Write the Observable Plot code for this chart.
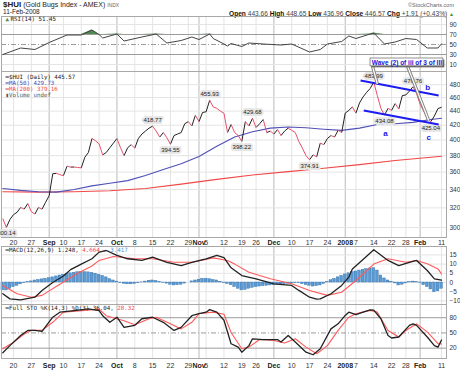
<!DOCTYPE html>
<html><head><meta charset="utf-8">
<script src="https://cdn.jsdelivr.net/npm/d3@7"></script>
<script src="https://cdn.jsdelivr.net/npm/@observablehq/plot@0.6"></script>
<style>
body{margin:0;background:#fff;}
#chart{position:relative;width:460px;height:371px;overflow:hidden;background:#fff;font-family:"Liberation Sans",Arial,sans-serif;color:#222;}
.h{position:absolute;white-space:nowrap;}
</style></head><body><div id="chart">
<div class="h" style="left:3px;top:0px;font-size:7px;line-height:10px;"><b style="font-size:8px">$HUI</b> (Gold Bugs Index - AMEX) <span style="font-size:5px;color:#666">INDX</span></div>
<div class="h" style="left:3px;top:7px;font-size:6.5px;line-height:9px;">11-Feb-2008</div>
<div class="h" style="right:6px;top:1px;font-size:5.5px;line-height:8px;color:#666;">©StockCharts.com</div>
<div class="h" style="right:6px;top:9.5px;font-size:6.6px;line-height:8px;color:#444;"><b style="color:#111">Open</b> 443.66 <b style="color:#111">High</b> 448.65 <b style="color:#111">Low</b> 436.96 <b style="color:#111">Close</b> 446.57 <b style="color:#111">Chg</b> +1.91 (+0.43%) <span style="color:#2a9a2a;font-size:5px">▲</span></div>
</div>
<script>
// ---------- data ----------
const holidays = ["2007-09-03","2007-11-22","2007-12-25","2008-01-01","2008-01-21"];
const firstDate = "2007-08-15", lastDate = "2008-02-11";

// daily closes, one per trading day from 15-Aug-2007
const price = [309,300.14,308,313,315.4,320.5,318.7,324.6,316,313.6,
 320.5,318.6,326,333,358,358.5,357,355.8,367,366,
 366,365.5,365,378,384,402,399,395,381,384,
 390,396,402,390,380,390,394,389.5,402,408,
 412,416,418.77,412,404,410,403,394.55,406,408,
 410,422,425,419,434,425,438,439,455.93,446,
 444,440,437,410,421,410,406,398.22,425,419,
 429.68,417,422,428,410,412,408,414,406,412,
 416,413,410,398,389.5,380,374.91,381,378.5,396,
 394,402,406,404,413,410,437,441,446,437,
 452,461,468,474,483.99,463,444,434.08,444,441,
 451,443,463,464,470,476.76,466,450,440,430,
 425.04,433,443.66,445.57];

const ma50Day = [0,5,10,15,20,25,30,35,40,45,50,55,60,65,70,75,80,85,90,95,100,105,110,115,120,123];
const ma50Val = [341,339,337.5,337,340,344,347,350,356,363,370,379,392,404,411,416,417.5,416.5,414.5,413,416,421,422,424,428,429.73];
const ma200Day = [0,10,20,30,40,50,60,70,80,90,100,110,120,123];
const ma200Val = [337.5,337,337.5,338.5,341,346,351.5,356.5,360.5,364.5,369,374,378,379.16];

const rsiDay = [0,5,9,13,18,22,25,27,28,32,34,39,43,46,50,53,55,58,59,62,63,64,67,69,73,78,81,86,89,91,95,97,99,103,104,107,110,113,116,119,122,123];
const rsiVal = [30,43,40,54,69,69,79,70,63,71,57,65,71,53,58,65,60,71,62,51,47,52,46,53,51,49,51,35,40,51,56,67,62,71,73,51,55,62,60,43,43,51.45];

const macdDay = [0,2,5,9,11,14,17,19,22,25,27,29,32,35,39,42,46,50,53,57,60,62,64,67,71,76,81,83,86,88,89,92,95,97,98,101,104,108,111,114,116,119,121,123];
const macdVal = [-6.1,-8.9,-9.4,-8,-4.3,0,3.5,7,10,12.9,16.5,17.4,14.7,12.9,12,13.8,11,9.2,11,12.9,14.7,13.5,8,3.8,2,-0.7,-1.6,-4.3,-8,-9,-8.9,-6.1,-1.6,2.9,7.4,12.5,17.8,12,9.2,11,12,6.5,2,1.248];
const sigDay = [0,4,8,11,16,21,25,27,31,37,42,48,53,59,63,65,69,75,81,86,91,95,99,104,108,113,116,119,122,123];
const sigVal = [-1.6,-6.1,-8,-7,-1,5,9,12,14.1,12.9,12.9,11,11,13.4,12,10,5.6,2,-0.7,-4.3,-7,-5.3,1.1,10,12.9,11,12,10.2,7.4,4.664];
const hist = [-4.3,-4.3,-3.5,-2.5,-1.8,-1,-0.3,0.3,0.6,1.1,
 1.4,1.7,2,2.3,2.8,3.3,3.8,4.2,4.7,5,
 5.3,5.6,5.6,5.6,5.5,5.2,4.8,4.2,3.6,2.8,
 1.8,1.1,0.5,-0.3,-0.7,-1,-1,-0.8,-0.4,0.1,
 0.5,0.9,1.1,0.8,0.3,-0.2,-0.6,-1.2,-1.6,-1.5,
 -1.2,-0.6,0,0.6,1.1,1.5,2,2,1.8,1.4,
 1.1,0.4,-0.3,-0.8,-1.5,-2.5,-3.4,-4.3,-4,-3.4,
 -2.9,-2.5,-2.2,-2,-1.8,-1.6,-1.4,-1.2,-1,-0.9,
 -0.7,-0.5,-0.3,-0.4,-0.9,-1.4,-1.8,-2.2,-2,-1.6,
 -0.8,0.2,1.2,2,2.8,3.6,4.4,5,5.6,6,
 6.5,6.9,7.3,7.6,7.8,6.5,3.8,2.2,1.1,0.3,
 -0.5,-1.6,-1.2,-0.5,0.2,0.5,0.3,-0.2,-1.5,-2.5,
 -3.8,-5.3,-4.8,-3.417];

const kDay = [0,2,5,7,9,11,14,16,20,24,27,28,30,32,34,37,39,42,45,48,50,53,55,57,58,60,62,64,66,67,69,70,73,77,78,80,82,85,87,89,92,94,96,97,99,101,103,104,106,108,109,111,114,115,116,119,121,122,123];
const kVal = [10.8,25,45,55,55,53,81,91,94,97.6,94,84,71,81,61,65,78,81,71,55,61,84,88,91,96,91,75,28.7,22,12,25,38.5,37,37,32,45,32,12,7,18.7,58,68,84.6,91,86,91,95.7,95,78,45,40,42,65,68,65,42,25,22,36.04];
const dDay = [0,3,6,8,11,14,17,22,27,29,32,34,37,41,43,47,50,53,55,59,62,64,67,69,72,76,79,82,85,88,91,94,97,99,103,105,108,111,113,116,119,122,123];
const dVal = [18.7,31.6,48,55,55,71,91,94,97,84,78,74,66,78,81,68,58,71,88,91,87,51,18.7,22,37,35,30,38.5,22,9,25,55,81,88,94.5,91,55,42,55,68,52,29,28.32];

const tickDate = ["2007-08-20","2007-08-27","2007-09-04","2007-09-10","2007-09-17","2007-09-24","2007-10-01","2007-10-08","2007-10-15","2007-10-22","2007-10-29","2007-11-01","2007-11-05","2007-11-12","2007-11-19","2007-11-26","2007-12-03","2007-12-10","2007-12-17","2007-12-24","2008-01-02","2008-01-07","2008-01-14","2008-01-22","2008-01-28","2008-02-01","2008-02-11"];
const tickLabel = ["20","27","Sep","10","17","24","Oct","8","15","22","29","Nov","5","12","19","26","Dec","10","17","24","2008","7","14","22","28","Feb","11"];
const monthLabels = ["Sep","Oct","Nov","Dec","2008","Feb"];

const priceTicks = [300,320,340,360,380,400,420,440,460,480];
const rsiTicks = [90,70,50,30,10];
const macdTicks = [15,10,5,0,-5,-10];
const stoTicks = [80,50,20];

const labelDay = [1,42,47,58,67,70,86,104,107,115,120];
const labelSide = ["below","above","below","above","below","above","below","above","below","above","below"];

// annotations (drawn by the chart author)
const trendDay1 = [100.3,101.2], trendPrice1 = [486.7,440.8], trendDay2 = [122.2,122.2], trendPrice2 = [463.1,421];
const arrowDay1 = [103.6,113.4], arrowPrice1 = [511,511], arrowDay2 = [105,119.4], arrowPrice2 = [481.3,426.5];
const waveLetters = ["a","b","c"], letterDay = [107.3,119.1,119.4], letterPrice = [409,476,403.7];
const waveText = "Wave (2) of iii of 3 of III";
const waveBox = {x1:103.1, x2:123.5, y1:509.8, y2:523.1, x:113.3, y:516.4};

// ---------- build ----------
const days = [];
for (let d = new Date(firstDate + "T00:00:00Z"); d <= new Date(lastDate + "T00:00:00Z"); d.setUTCDate(d.getUTCDate() + 1)) {
  const s = d.toISOString().slice(0, 10), wd = d.getUTCDay();
  if (wd !== 0 && wd !== 6 && !holidays.includes(s)) days.push(s);
}
const ticks = tickDate.map((s, i) => ({day: days.indexOf(s), label: tickLabel[i], bold: monthLabels.includes(tickLabel[i])}));
const minorT = ticks.filter(t => !t.bold), majorT = ticks.filter(t => t.bold);

const segs = [];
for (let i = 1; i < price.length; i++) segs.push({x1: i - 1, y1: price[i - 1], x2: i, y2: price[i], up: price[i] >= price[i - 1]});
const pts = (ds, vs) => ds.map((d, i) => ({day: d, v: vs[i]}));
const ma50 = pts(ma50Day, ma50Val), ma200 = pts(ma200Day, ma200Val);
const rsi = pts(rsiDay, rsiVal), macd = pts(macdDay, macdVal), sig = pts(sigDay, sigVal);
const kS = pts(kDay, kVal), dS = pts(dDay, dVal);
const histD = hist.map((v, i) => ({day: i, v}));
const labels = labelDay.map((d, i) => ({day: d, v: price[d], side: labelSide[i]}));
const trends = trendDay1.map((d, i) => ({x1: d, y1: trendPrice1[i], x2: trendDay2[i], y2: trendPrice2[i]}));
const arrows = arrowDay1.map((d, i) => ({x1: d, y1: arrowPrice1[i], x2: arrowDay2[i], y2: arrowPrice2[i]}));
const letters = waveLetters.map((t, i) => ({t, day: letterDay[i], v: letterPrice[i]}));

const C = document.getElementById("chart");
const xDomain = [(1 - 2.3) / 3.567, (446 - 2.3) / 3.567];
const monoFont = "DejaVu Sans Mono";
const ctx = document.createElement("canvas").getContext("2d");
ctx.font = `5.8px '${monoFont}'`;
const tw = s => ctx.measureText(s).width;
const mono = {fontFamily: monoFont, fontSize: 5.8, textAnchor: "start", lineAnchor: "middle", frameAnchor: "top-left"};
const axisOpts = {anchor: "right", tickSize: 0, tickPadding: 3, fontSize: 6.5, fill: "#333", label: null};
const vgrid = () => [
  Plot.ruleX(minorT, {x: "day", stroke: "#e4e4e4", strokeWidth: 1}),
  Plot.ruleX(majorT, {x: "day", stroke: "#b9b9b9", strokeWidth: 1})
];
function addPanel(top, opts) {
  const svg = Plot.plot({
    width: 460, marginLeft: 1, marginRight: 14, marginTop: 0,
    x: {domain: xDomain, axis: null, label: null},
    style: {background: "transparent", overflow: "visible", fontFamily: "'Liberation Sans', Arial, sans-serif", fontSize: "6.5px"},
    ...opts
  });
  svg.style.position = "absolute"; svg.style.left = "0px"; svg.style.top = top + "px";
  C.appendChild(svg);
}
const dateLabels = (dy) => [
  Plot.text(minorT, {x: "day", text: "label", frameAnchor: "bottom", lineAnchor: "middle", dy, fontSize: 7, fill: "#333"}),
  Plot.text(majorT, {x: "day", text: "label", frameAnchor: "bottom", lineAnchor: "middle", dy, fontSize: 7, fontWeight: "bold", fill: "#222"})
];

// RSI panel
addPanel(16, {height: 55, marginBottom: 0, y: {domain: [-4, 106], axis: null, label: null}, marks: [
  ...vgrid(),
  Plot.ruleY([90, 10], {stroke: "#e4e4e4"}),
  Plot.ruleY([70, 30], {stroke: "#9c9c9c"}),
  Plot.ruleY([50], {stroke: "#9c9c9c", strokeDasharray: "5,2,1,2"}),
  Plot.areaY(rsi, {x: "day", y1: 70, y2: d => Math.max(70, d.v), fill: "#4f8a4f"}),
  Plot.line(rsi, {x: "day", y: "v", stroke: "#444", strokeWidth: 1}),
  Plot.frame({stroke: "#a8a8a8"}),
  Plot.axisY({...axisOpts, ticks: rsiTicks}),
  Plot.text(["▲"], {...mono, dx: 4, dy: 3, fill: "#4f8a4f"}),
  Plot.text([`RSI(14) ${rsiVal[rsiVal.length - 1]}`], {...mono, dx: 9, dy: 3, fill: "#222"})
]});

// Price panel
addPanel(71, {height: 180, marginBottom: 14, y: {type: "log", domain: [290.3, 501.2], axis: null, label: null}, marks: [
  ...vgrid(),
  Plot.ruleY(priceTicks, {stroke: "#e4e4e4"}),
  Plot.frame({stroke: "#a8a8a8"}),
  Plot.line(ma200, {x: "day", y: "v", stroke: "#f04848", strokeWidth: 1.1}),
  Plot.line(ma50, {x: "day", y: "v", stroke: "#5050b8", strokeWidth: 1.1}),
  Plot.link(segs.filter(s => s.up), {x1: "x1", y1: "y1", x2: "x2", y2: "y2", stroke: "#222", strokeWidth: 1}),
  Plot.link(segs.filter(s => !s.up), {x1: "x1", y1: "y1", x2: "x2", y2: "y2", stroke: "#e8506a", strokeWidth: 1}),
  Plot.text(labels.filter(l => l.side === "above"), {x: "day", y: "v", text: d => d.v.toFixed(2), dy: -6, fontSize: 6, fill: "#222", stroke: "#e6e6e6", strokeWidth: 4}),
  Plot.text(labels.filter(l => l.side === "below"), {x: "day", y: "v", text: d => d.v.toFixed(2), dy: 6, fontSize: 6, fill: "#222", stroke: "#e6e6e6", strokeWidth: 4}),
  Plot.link(trends, {x1: "x1", y1: "y1", x2: "x2", y2: "y2", stroke: "#1c1cf0", strokeWidth: 2}),
  Plot.link(arrows, {x1: "x1", y1: "y1", x2: "x2", y2: "y2", stroke: "#808080", strokeWidth: 3.2}),
  Plot.link(arrows, {x1: "x1", y1: "y1", x2: "x2", y2: "y2", stroke: "#ffffff", strokeWidth: 1.3}),
  Plot.text(letters, {x: "day", y: "v", text: "t", fontSize: 8, fontWeight: "bold", fill: "#2020e8"}),
  Plot.rect([waveBox], {x1: "x1", x2: "x2", y1: "y1", y2: "y2", fill: "#666", dx: 1.5, dy: 1.5}),
  Plot.rect([waveBox], {x1: "x1", x2: "x2", y1: "y1", y2: "y2", fill: "#fff", stroke: "#777", strokeWidth: 0.8}),
  Plot.text([waveBox], {x: "x", y: "y", text: () => waveText, fontSize: 6.5, fontWeight: "bold", fill: "#1515d8"}),
  Plot.axisY({...axisOpts, ticks: priceTicks, tickFormat: d => String(d)}),
  ...dateLabels(5),
  Plot.text([`━$HUI (Daily) ${price[price.length - 1].toFixed(2)}`], {...mono, dx: 4, dy: 6, fill: "#222"}),
  Plot.text([`━MA(50) ${ma50Val[ma50Val.length - 1].toFixed(2)}`], {...mono, dx: 4, dy: 12, fill: "#4a4ab8"}),
  Plot.text([`━MA(200) ${ma200Val[ma200Val.length - 1].toFixed(2)}`], {...mono, dx: 4, dy: 18, fill: "#f04848"}),
  Plot.text(["▮Volume undef"], {...mono, dx: 4, dy: 24, fill: "#555"})
]});

// MACD panel
const macdA = `━MACD(12,26,9) ${macdVal[macdVal.length - 1]}, `;
const macdB = `${sigVal[sigVal.length - 1]}, `;
addPanel(246, {height: 58, marginBottom: 0, y: {domain: [-11.96, 19.57], axis: null, label: null}, marks: [
  ...vgrid(),
  Plot.ruleY(macdTicks, {stroke: "#e4e4e4"}),
  Plot.rect(histD, {x1: d => d.day - 0.38, x2: d => d.day + 0.38, y1: 0, y2: "v", fill: "#5a9ad4", stroke: "#2f6ea8", strokeWidth: 0.4}),
  Plot.line(sig, {x: "day", y: "v", stroke: "#ff5a5a", strokeWidth: 1.1}),
  Plot.line(macd, {x: "day", y: "v", stroke: "#222", strokeWidth: 1.3}),
  Plot.frame({stroke: "#a8a8a8"}),
  Plot.axisY({...axisOpts, ticks: macdTicks}),
  Plot.text([macdA], {...mono, dx: 4, dy: 3.3, fill: "#222"}),
  Plot.text([macdB], {...mono, dx: 4 + tw(macdA), dy: 3.3, fill: "#f04848"}),
  Plot.text([`${hist[hist.length - 1]}`], {...mono, dx: 4 + tw(macdA + macdB), dy: 3.3, fill: "#3a9ad8"})
]});

// Full STO panel
const stoA = `━Full STO %K(14,3) %D(3) ${kVal[kVal.length - 1]}, `;
addPanel(304, {height: 67, marginBottom: 13, y: {domain: [-0.4, 106.1], axis: null, label: null}, marks: [
  ...vgrid(),
  Plot.ruleY([80, 20], {stroke: "#9c9c9c"}),
  Plot.ruleY([50], {stroke: "#9c9c9c", strokeDasharray: "5,2,1,2"}),
  Plot.line(dS, {x: "day", y: "v", stroke: "#ff5a5a", strokeWidth: 1.1}),
  Plot.line(kS, {x: "day", y: "v", stroke: "#222", strokeWidth: 1.3}),
  Plot.frame({stroke: "#a8a8a8"}),
  Plot.axisY({...axisOpts, ticks: stoTicks}),
  ...dateLabels(7),
  Plot.text([stoA], {...mono, dx: 4, dy: 3.7, fill: "#222"}),
  Plot.text([`${dVal[dVal.length - 1]}`], {...mono, dx: 4 + tw(stoA), dy: 3.7, fill: "#f04848"})
]});
</script></body></html>
